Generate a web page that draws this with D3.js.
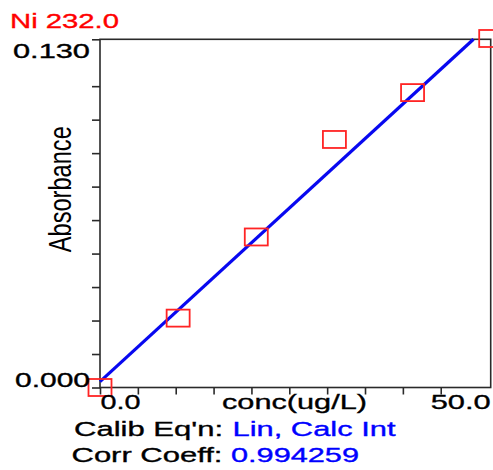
<!DOCTYPE html>
<html>
<head>
<meta charset="utf-8">
<script src="https://cdn.jsdelivr.net/npm/d3@7"></script>
<style>
  html, body { margin: 0; padding: 0; background: #fff; }
  svg { display: block; }
  text { font-family: "Liberation Sans", Arial, sans-serif; }
</style>
</head>
<body>
<svg id="chart" width="493" height="470"></svg>
<script>
// ---- data ----
const concentrations = [0, 10, 20, 30, 40, 50];
const absorbances = [0.0000, 0.0259, 0.0562, 0.0926, 0.1101, 0.1303];
const fitX = [0, 47.8];
const fitY = [0.0022, 0.130];
const xTickValues = [0, 4.845, 9.69, 14.535, 19.38, 24.225, 29.07, 33.915, 38.76, 43.605];
const yTickValues = [0, 0.0125, 0.025, 0.0375, 0.05, 0.0625, 0.075, 0.0875, 0.1, 0.1125, 0.13];
const xDomain = [0, 50];
const yDomain = [0, 0.130];
const xEndLabels = ["0.0", "50.0"];
const yEndLabels = ["0.000", "0.130"];
const title = "Ni 232.0";
const xTitle = "conc(ug/L)";
const yTitle = "Absorbance";
const infoLabels = ["Calib Eq'n:", "Corr Coeff:"];
const infoValues = ["Lin, Calc Int", "0.994259"];

// ---- layout ----
const L = 100, R = 490.7, T = 39.3, B = 387.5;
const svg = d3.select("#chart");
const x = d3.scaleLinear().domain(xDomain).range([L, R]);
const y = d3.scaleLinear().domain(yDomain).range([B, T]);
const axisColor = "#2a2a2a";

// ticks
const gx = svg.append("g").attr("transform", `translate(0,${B})`)
  .call(d3.axisBottom(x).tickValues(xTickValues).tickSize(7).tickFormat(""));
const gy = svg.append("g").attr("transform", `translate(${L},0)`)
  .call(d3.axisLeft(y).tickValues(yTickValues).tickSize(8).tickFormat(""));
[gx, gy].forEach(g => {
  g.select(".domain").remove();
  g.selectAll(".tick line").attr("stroke", axisColor).attr("stroke-width", 1.6);
});

// frame
svg.append("rect")
  .attr("x", x(xDomain[0])).attr("y", y(yDomain[1]))
  .attr("width", x(xDomain[1]) - x(xDomain[0]))
  .attr("height", y(yDomain[0]) - y(yDomain[1]))
  .attr("fill", "none").attr("stroke", axisColor).attr("stroke-width", 1.6);

// fit line
const line = d3.line().x(d => x(d[0])).y(d => y(d[1]));
svg.append("path")
  .datum(fitX.map((v, i) => [v, fitY[i]]))
  .attr("d", line)
  .attr("fill", "none").attr("stroke", "#0808f0").attr("stroke-width", 3.2);

// points (boxes)
const bw = 23, bh = 17;
svg.append("g").selectAll("rect")
  .data(concentrations.map((c, i) => [c, absorbances[i]]))
  .join("rect")
  .attr("x", d => x(d[0]) - bw / 2)
  .attr("y", d => y(d[1]) - bh / 2)
  .attr("width", bw).attr("height", bh)
  .attr("fill", "none").attr("stroke", "#ff2424").attr("stroke-width", 1.8);

// helper for stretched text
function txt(str, px, py, size, len, color, anchor) {
  return svg.append("text")
    .attr("x", px).attr("y", py)
    .attr("font-size", size)
    .attr("fill", color)
    .attr("stroke", color)
    .attr("stroke-width", 0.35)
    .attr("text-anchor", anchor || "start")
    .attr("textLength", len)
    .attr("lengthAdjust", "spacingAndGlyphs")
    .text(str);
}

// title
txt(title, 10, 27.5, 20, 109, "#ff0000");

// y end labels
txt(yEndLabels[1], 13, y(yDomain[1]) + 19, 19.5, 77, "#000");
txt(yEndLabels[0], 15, y(yDomain[0]) - 0.5, 19.5, 75, "#000");

// x end labels
txt(xEndLabels[0], x(xDomain[0]) + 0.5, B + 21, 21, 40, "#000");
txt(xEndLabels[1], x(xDomain[1]) - 60, B + 21, 21, 60, "#000");

// x title
txt(xTitle, 222, B + 21, 21, 145, "#000");

// y title (vertical)
svg.append("text")
  .attr("transform", `translate(70.5,${(126.7 + 251.7) / 2}) rotate(-90)`)
  .attr("text-anchor", "middle")
  .attr("font-size", 32)
  .attr("fill", "#000")
  .attr("textLength", 126)
  .attr("lengthAdjust", "spacingAndGlyphs")
  .text(yTitle);

// info lines
txt(infoLabels[0], 74, 435.7, 20.5, 149, "#000");
txt(infoValues[0], 232.5, 435.7, 20.5, 163, "#0000ff");
txt(infoLabels[1], 71.5, 462.3, 20.5, 151, "#000");
txt(infoValues[1], 231, 462.3, 20.5, 128, "#0000ff");
</script>
</body>
</html>
